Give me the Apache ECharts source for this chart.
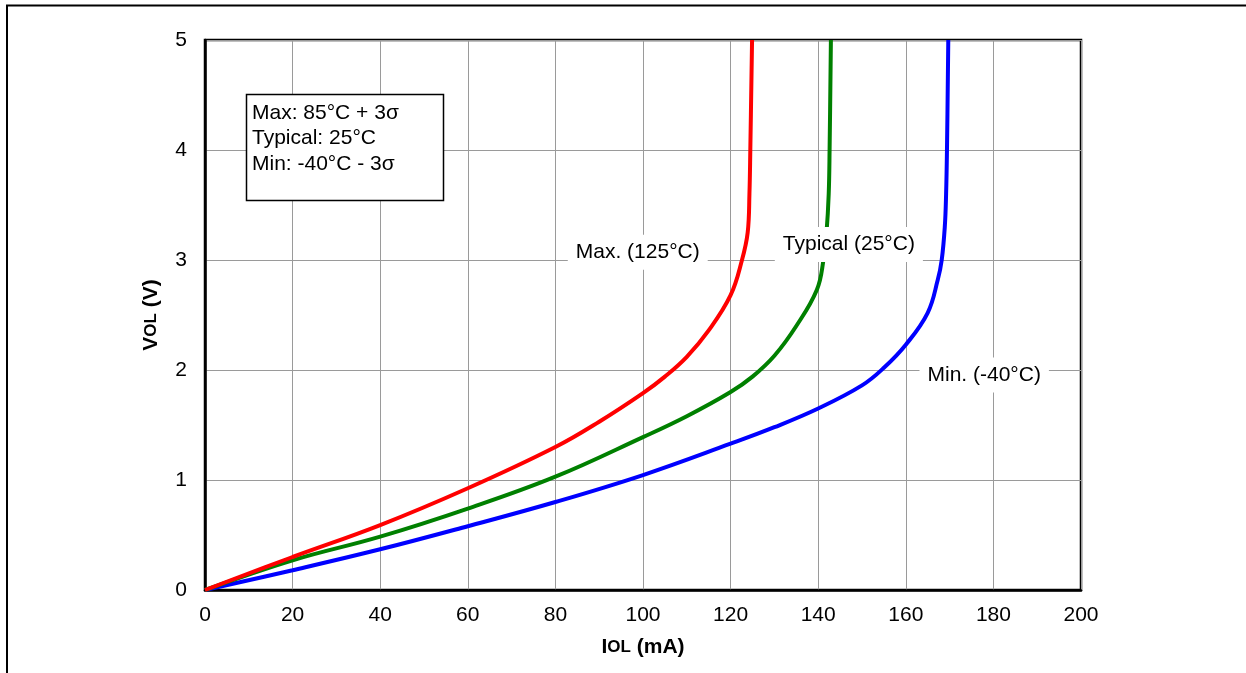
<!DOCTYPE html>
<html>
<head>
<meta charset="utf-8">
<script src="https://cdn.jsdelivr.net/npm/echarts@6/dist/echarts.min.js"></script>
<style>
html,body{margin:0;padding:0;background:#fff;}
#chart{width:1246px;height:673px;}
</style>
</head>
<body>
<div id="chart"></div>
<script>
// ---- data ----
const xTicks = [0, 20, 40, 60, 80, 100, 120, 140, 160, 180, 200];
const yTicks = [0, 1, 2, 3, 4, 5];

const maxI = [0, 20, 40, 60, 80, 90, 100, 105, 110, 115, 120, 122.6, 123.9, 124.3, 124.5, 124.9];
const maxV = [0, 0.30, 0.59, 0.925, 1.30, 1.53, 1.79, 1.94, 2.12, 2.36, 2.68, 3.0, 3.25, 3.6, 4.0, 5.0];

const typI = [0, 20, 40, 60, 80, 100, 110, 120, 125, 130, 135, 139.7, 141.2, 141.9, 142.4, 142.6, 142.9];
const typV = [0, 0.27, 0.485, 0.74, 1.03, 1.39, 1.58, 1.80, 1.94, 2.13, 2.40, 2.73, 3.0, 3.25, 3.6, 4.0, 5.0];

const minI = [0, 20, 40, 60, 80, 100, 120, 130, 140, 150, 155, 160, 165, 167.3, 168.2, 168.9, 169.2, 169.4, 169.7];
const minV = [0, 0.18, 0.37, 0.58, 0.80, 1.045, 1.33, 1.48, 1.65, 1.86, 2.02, 2.23, 2.52, 2.82, 3.0, 3.3, 3.6, 4.0, 5.0];

const noteText = ['Max. (125°C)', 'Typical (25°C)', 'Min. (-40°C)'];
const noteI = [98.8, 147.0, 177.9];
const noteV = [3.07, 3.14, 1.955];

const legendLines = ['Max: 85°C + 3σ', 'Typical: 25°C', 'Min: -40°C - 3σ'];

// ---- chart ----
const FONT = '"Liberation Sans", Arial, sans-serif';
const pairs = (xs, ys) => xs.map((x, i) => [x, ys[i]]);

const chart = echarts.init(document.getElementById('chart'), null, {renderer: 'canvas'});

const lineSeries = (name, color, xs, ys) => ({
  name, type: 'line', data: pairs(xs, ys),
  showSymbol: false, symbol: 'none',
  smooth: 0.4,
  lineStyle: {color, width: 4},
  z: 2,
  animation: false
});

chart.setOption({
  animation: false,
  backgroundColor: '#fff',
  grid: {left: 205, right: 165, top: 40, bottom: 83, show: true, borderColor: '#000', borderWidth: 2.5, backgroundColor: 'transparent'},
  xAxis: {
    type: 'value', min: 0, max: 200, interval: 20,
    name: '{a|I}{b|OL}{a| (mA)}', nameLocation: 'middle', nameGap: 47,
    nameTextStyle: {
      rich: {
        a: {fontFamily: FONT, fontSize: 21, fontWeight: 'bold', color: '#000'},
        b: {fontFamily: FONT, fontSize: 17, fontWeight: 'bold', color: '#000'}
      }
    },
    axisLine: {show: true, lineStyle: {color: '#000', width: 2.5}},
    axisTick: {show: false},
    axisLabel: {
      color: '#000', fontFamily: FONT, fontSize: 21, margin: 15,
      formatter: v => xTicks.includes(v) ? String(v) : ''
    },
    splitLine: {show: true, lineStyle: {color: '#9a9a9a', width: 1}}
  },
  yAxis: {
    type: 'value', min: 0, max: 5, interval: 1,
    name: '{a|V}{b|OL}{a| (V)}', nameLocation: 'middle', nameGap: 43,
    nameTextStyle: {
      rich: {
        a: {fontFamily: FONT, fontSize: 21, fontWeight: 'bold', color: '#000'},
        b: {fontFamily: FONT, fontSize: 17, fontWeight: 'bold', color: '#000'}
      }
    },
    axisLine: {show: true, lineStyle: {color: '#000', width: 2.5}},
    axisTick: {show: false},
    axisLabel: {
      color: '#000', fontFamily: FONT, fontSize: 21, margin: 18,
      formatter: v => yTicks.includes(v) ? String(v) : ''
    },
    splitLine: {show: true, lineStyle: {color: '#9a9a9a', width: 1}}
  },
  series: [
    lineSeries('Min. (-40°C)', '#0000ff', minI, minV),
    lineSeries('Typical (25°C)', '#008000', typI, typV),
    lineSeries('Max. (125°C)', '#ff0000', maxI, maxV),
    {
      name: 'notes', type: 'scatter', symbolSize: 0, z: 5,
      itemStyle: {opacity: 1},
      data: noteText.map((t, i) => ({name: t, value: [noteI[i], noteV[i]]})),
      label: {
        show: true, position: 'inside', formatter: p => p.name,
        color: '#000', opacity: 1, fontFamily: FONT, fontSize: 21,
        backgroundColor: '#fff', padding: [7, 8]
      },
      emphasis: {disabled: true},
      silent: true
    }
  ],
  graphic: [
    {type: 'line', shape: {x1: 6, y1: 5.5, x2: 1246, y2: 5.5}, style: {stroke: '#000', lineWidth: 2}, silent: true},
    {type: 'line', shape: {x1: 7, y1: 5, x2: 7, y2: 673}, style: {stroke: '#000', lineWidth: 2}, silent: true},
    {type: 'rect', shape: {x: 246.5, y: 94.5, width: 197, height: 106}, style: {fill: '#fff', stroke: '#000', lineWidth: 1.5}, z: 10, silent: true},
    {type: 'text', x: 252, y: 100, z: 11, silent: true,
      style: {text: legendLines.join('\n'), fill: '#000', font: '21px "Liberation Sans", Arial, sans-serif', lineHeight: 25.5}}
  ]
});
</script>
</body>
</html>
